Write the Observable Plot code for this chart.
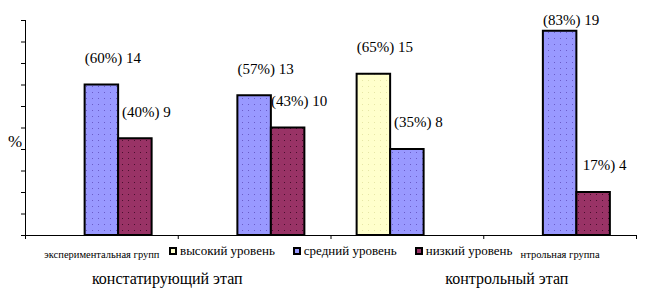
<!DOCTYPE html>
<html><head><meta charset="utf-8">
<script src="https://cdn.jsdelivr.net/npm/d3@7"></script>
<script src="https://cdn.jsdelivr.net/npm/@observablehq/plot@0.6"></script>
<style>
body{margin:0;background:#fff;}
#wrap{position:relative;width:648px;height:300px;font-family:"Liberation Serif","Times New Roman",serif;color:#000;}
#legend{position:absolute;left:169px;top:243px;height:16px;display:flex;align-items:center;background:#fff;font-size:13px;line-height:16px;white-space:nowrap;}
.item{display:flex;align-items:center;margin-right:18px;}
.item:last-child{margin-right:0;}
.sw{width:4px;height:4px;border:2px solid #000;margin-right:3px;}
</style></head><body>
<svg width="0" height="0" style="position:absolute">
<defs>
<pattern id="pHigh" width="6" height="6" patternUnits="userSpaceOnUse"><rect width="6" height="6" fill="#FFFFCC"/><rect x="2" y="2" width="1" height="1" fill="#E6E6A6"/></pattern>
<pattern id="pMid" width="6" height="6" patternUnits="userSpaceOnUse"><rect width="6" height="6" fill="#9999FF"/><rect x="2" y="2" width="1" height="1" fill="#6a5cc8"/></pattern>
<pattern id="pLow" width="6" height="6" patternUnits="userSpaceOnUse"><rect width="6" height="6" fill="#993366"/><rect x="2" y="2" width="1" height="1" fill="#4a0f2e"/></pattern>
</defs></svg>
<div id="wrap"></div>
<script>
// ---- data ----
const categories = ["экспериментальная группа", "контрольная группа", "экспериментальная группа", "контрольная группа"];
const tickLabels = ["экспериментальная групп", "", "", "нтрольная группа"];
const levels = ["высокий уровень", "средний уровень", "низкий уровень"];
const highValues = [0, 0, 15, 0];
const mediumValues = [14, 13, 8, 19];
const lowValues = [9, 10, 0, 4];
const highLabels = [null, null, "(65%) 15", null];
const mediumLabels = ["(60%) 14", "(57%) 13", "(35%) 8", "(83%) 19"];
const lowLabels = ["(40%) 9", "(43%) 10", null, "17%) 4"];
const stages = ["констатирующий этап", "контрольный этап"];
const yTicks = d3.range(0, 21, 2);
const levelColors = ["#FFFFCC", "#9999FF", "#993366"];
const levelPatterns = ["url(#pHigh)", "url(#pMid)", "url(#pLow)"];

// ---- build table ----
const seriesValues = [highValues, mediumValues, lowValues];
const seriesLabels = [highLabels, mediumLabels, lowLabels];
const sub = d3.scaleBand().domain(levels).range([0, 1]).paddingInner(0).paddingOuter(0.78);
const rows = [];
categories.forEach((c, i) => {
  levels.forEach((l, j) => {
    const v = seriesValues[j][i];
    if (v > 0) {
      const x1 = i + sub(l);
      rows.push({i, level: l, value: v, label: seriesLabels[j][i], x1, x2: x1 + sub.bandwidth()});
    }
  });
});

const font = "Liberation Serif, Times New Roman, serif";
const chart = Plot.plot({
  width: 648, height: 300,
  marginLeft: 25, marginRight: 12, marginTop: 20, marginBottom: 65,
  style: {fontFamily: font, background: "#fff", color: "#000", overflow: "visible"},
  x: {domain: [0, categories.length]},
  y: {domain: [0, 20], clamp: true},
  color: {domain: levels, range: levelPatterns},
  marks: [
    Plot.rectY(rows, {x1: "x1", x2: "x2", y1: 0, y2: "value", fill: "level", stroke: "#000", strokeWidth: 2}),
    Plot.ruleY([0], {stroke: "#000"}),
    Plot.ruleX([0], {stroke: "#000"}),
    Plot.axisY({ticks: yTicks, tickSize: 4, tickFormat: () => "", label: null, stroke: "#000"}),
    Plot.axisX({ticks: d3.range(0, categories.length + 1), tickSize: 4, tickFormat: () => "", label: null, stroke: "#000"}),
    Plot.axisX({ticks: categories.map((_, i) => i + 0.5), tickSize: 0, tickPadding: 15, tickFormat: v => tickLabels[Math.floor(v)], label: null, fontSize: 10.5, fill: "#000"}),
    Plot.text(rows.filter(d => d.label), {x: d => (d.x1 + d.x2) / 2, y: d => d.value + 2.5, text: "label", dx: 11, fontSize: 15, fill: "#000"}),
    Plot.text(["%"], {text: d => d, frameAnchor: "left", textAnchor: "middle", dx: -10.5, dy: 13.5, fontSize: 17, fill: "#000"}),
    Plot.text([stages[0]], {text: d => d, x: 1, frameAnchor: "bottom", lineAnchor: "middle", dy: 43, dx: -11, fontSize: 16, fill: "#000"}),
    Plot.text([stages[1]], {text: d => d, x: 3, frameAnchor: "bottom", lineAnchor: "middle", dy: 43, dx: 23, fontSize: 16, fill: "#000"})
  ]
});
const wrap = document.getElementById("wrap");
wrap.appendChild(chart);

// legend overlay
const legend = document.createElement("div");
legend.id = "legend";
levels.forEach((l, j) => {
  const item = document.createElement("div");
  item.className = "item";
  const sw = document.createElement("span");
  sw.className = "sw";
  sw.style.background = levelColors[j];
  const t = document.createElement("span");
  t.textContent = l;
  item.appendChild(sw); item.appendChild(t);
  legend.appendChild(item);
});
wrap.appendChild(legend);
</script>
</body></html>
